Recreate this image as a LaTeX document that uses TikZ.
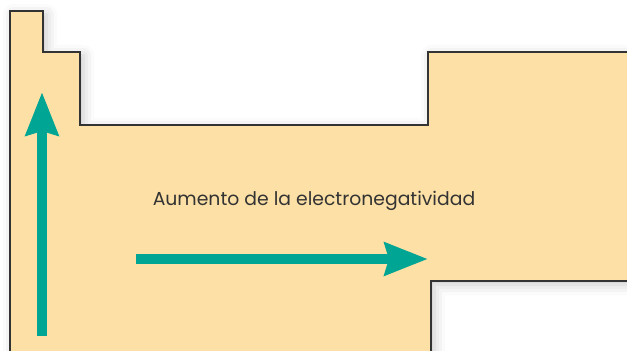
\documentclass[tikz,border=0pt]{standalone}
\usepackage{fontspec}
\setmainfont{Poppins}
\usetikzlibrary{arrows.meta,shadows.blur}
\definecolor{tablefill}{RGB}{253,224,166}
\definecolor{arrowteal}{RGB}{0,166,147}
\tikzset{
	trend/.style={line width=0.2cm, draw=arrowteal, -{Stealth[length=0.86cm, width=0.64cm, inset=0.08cm]}},
	label/.style={font=\fontsize{10.7}{13}\selectfont, text=black!80, anchor=base, inner sep=0pt}
}
\begin{document}
\begin{tikzpicture}[x=0.02cm, y=-0.02cm]
		
		% Keep the frame of the picture
		\clip (0,0) rectangle (627,351);
		
		% Define the corners of the table outline
		\coordinate (A) at (10,360);
		\coordinate (B) at (10,11);
		\coordinate (C) at (43,11);
		\coordinate (D) at (43,52);
		\coordinate (E) at (80,52);
		\coordinate (F) at (80,125);
		\coordinate (G) at (428,125);
		\coordinate (H) at (428,52);
		\coordinate (I) at (650,52);
		\coordinate (J) at (650,281);
		\coordinate (K) at (431,281);
		\coordinate (L) at (431,360);
		
		% Draw and fill the table with its shadow
		\fill[tablefill, blur shadow={shadow xshift=2pt, shadow yshift=-2pt, shadow blur radius=6pt, shadow opacity=22}]
			(A) -- (B) -- (C) -- (D) -- (E) -- (F) -- (G) -- (H) -- (I) -- (J) -- (K) -- (L) -- cycle;
		\draw[line width=0.7pt, black!80] (A) -- (B) -- (C) -- (D) -- (E) -- (F) -- (G) -- (H) -- (I);
		\draw[line width=0.7pt, black!80] (J) -- (K) -- (L);
		
		% Arrow ends
		\coordinate (up0) at (42,336);
		\coordinate (up1) at (42,92);
		\coordinate (right0) at (136,259);
		\coordinate (right1) at (428,259);
		
		% Draw the trend arrows
		\draw[trend] (up0) -- (up1);
		\draw[trend] (right0) -- (right1);
		
		% Label the trend
		\node[label] (trendlabel) at (314,206) {Aumento de la electronegatividad};
		
	\end{tikzpicture}
\end{document}
